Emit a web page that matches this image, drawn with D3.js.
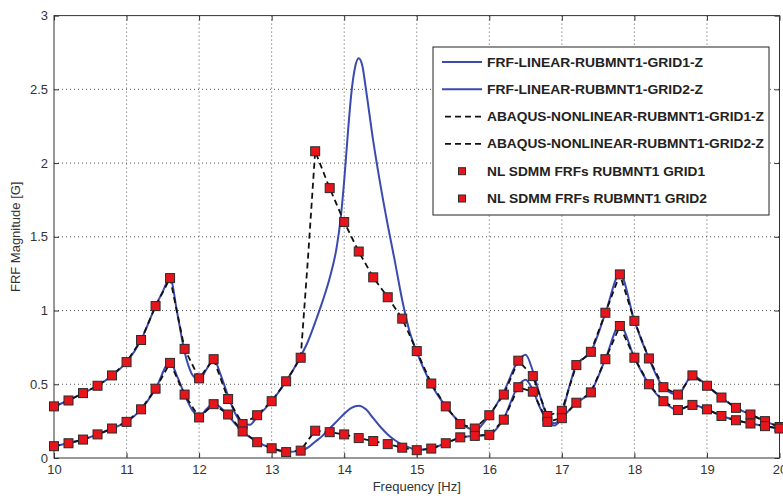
<!DOCTYPE html>
<html><head><meta charset="utf-8">
<script src="https://cdn.jsdelivr.net/npm/d3@7"></script>
<style>body{margin:0;background:#fff}svg{display:block}</style>
</head><body><svg id="c" width="783" height="496"></svg>
<script>
// ---- data ----
const xTicks = [10, 11, 12, 13, 14, 15, 16, 17, 18, 19, 20];
const yTicks = [0, 0.5, 1, 1.5, 2, 2.5, 3];
const legendLabels = [
  "FRF-LINEAR-RUBMNT1-GRID1-Z",
  "FRF-LINEAR-RUBMNT1-GRID2-Z",
  "ABAQUS-NONLINEAR-RUBMNT1-GRID1-Z",
  "ABAQUS-NONLINEAR-RUBMNT1-GRID2-Z",
  "NL SDMM FRFs RUBMNT1 GRID1",
  "NL SDMM FRFs RUBMNT1 GRID2"
];
// NL SDMM marker frequencies and values
const sdmmFreq = [10,10.2,10.4,10.6,10.8,11,11.2,11.4,11.6,11.8,12,12.2,12.4,12.6,12.8,13,13.2,13.4,13.6,13.8,14,14.2,14.4,14.6,14.8,15,15.2,15.4,15.6,15.8,16,16.2,16.4,16.6,16.8,17,17.2,17.4,17.6,17.8,18,18.2,18.4,18.6,18.8,19,19.2,19.4,19.6,19.8,20];
const sdmmGrid1 = [0.35,0.39,0.44,0.49,0.56,0.65,0.80,1.03,1.22,0.74,0.54,0.67,0.40,0.23,0.29,0.385,0.52,0.68,2.08,1.83,1.60,1.40,1.225,1.09,0.945,0.725,0.505,0.35,0.23,0.20,0.29,0.43,0.66,0.555,0.285,0.32,0.63,0.72,0.985,1.245,0.93,0.675,0.48,0.43,0.56,0.49,0.41,0.34,0.295,0.25,0.21];
const sdmmGrid2 = [0.08,0.10,0.125,0.16,0.20,0.245,0.33,0.47,0.645,0.43,0.275,0.365,0.295,0.18,0.107,0.066,0.04,0.05,0.185,0.175,0.16,0.135,0.115,0.094,0.07,0.053,0.064,0.10,0.14,0.15,0.157,0.26,0.48,0.45,0.245,0.27,0.375,0.445,0.67,0.895,0.68,0.50,0.385,0.325,0.36,0.33,0.285,0.256,0.234,0.216,0.20];
// ABAQUS nonlinear (dashed)
const abaqusFreq = [10,10.2,10.4,10.6,10.8,11,11.2,11.4,11.6,11.8,12,12.2,12.4,12.6,12.8,13,13.2,13.4,13.5,13.6,13.8,14,14.2,14.4,14.6,14.8,15,15.2,15.4,15.6,15.8,16,16.2,16.4,16.6,16.8,17,17.2,17.4,17.6,17.8,18,18.2,18.4,18.6,18.8,19,19.2,19.4,19.6,19.8,20];
const abaqusGrid1 = [0.35,0.39,0.44,0.49,0.56,0.65,0.80,1.03,1.22,0.74,0.54,0.67,0.40,0.23,0.29,0.385,0.52,0.68,1.35,2.08,1.83,1.60,1.40,1.225,1.09,0.945,0.725,0.505,0.35,0.23,0.20,0.29,0.43,0.66,0.555,0.285,0.32,0.63,0.72,0.985,1.245,0.93,0.675,0.48,0.43,0.56,0.49,0.41,0.34,0.295,0.25,0.21];
const abaqusGrid2 = [0.08,0.10,0.125,0.16,0.20,0.245,0.33,0.47,0.645,0.43,0.275,0.365,0.295,0.18,0.107,0.066,0.04,0.05,0.12,0.185,0.175,0.16,0.135,0.115,0.094,0.07,0.053,0.064,0.10,0.14,0.15,0.157,0.26,0.48,0.45,0.245,0.27,0.375,0.445,0.67,0.895,0.68,0.50,0.385,0.325,0.36,0.33,0.285,0.256,0.234,0.216,0.20];
// FRF linear (blue)
const linFreq1 = [10,10.2,10.4,10.6,10.8,11,11.2,11.4,11.5,11.6,11.7,11.8,11.9,12,12.1,12.2,12.3,12.4,12.5,12.6,12.7,12.8,12.9,13,13.2,13.4,13.5,13.6,13.7,13.8,13.9,13.95,14,14.05,14.1,14.15,14.2,14.25,14.3,14.4,14.5,14.6,14.7,14.8,14.9,15,15.2,15.4,15.6,15.8,16,16.2,16.4,16.5,16.6,16.7,16.8,16.9,17,17.1,17.2,17.4,17.6,17.8,18,18.2,18.4,18.6,18.8,19,19.2,19.4,19.6,19.8,20];
const linGrid1 = [0.35,0.39,0.44,0.49,0.56,0.65,0.80,1.03,1.13,1.22,0.98,0.72,0.57,0.53,0.60,0.67,0.56,0.42,0.30,0.235,0.225,0.28,0.33,0.385,0.52,0.69,0.79,0.92,1.06,1.22,1.44,1.62,1.88,2.2,2.48,2.65,2.71,2.66,2.50,2.15,1.85,1.58,1.33,1.07,0.86,0.72,0.50,0.35,0.24,0.19,0.29,0.45,0.66,0.70,0.59,0.42,0.28,0.235,0.30,0.48,0.63,0.72,0.98,1.25,0.93,0.675,0.48,0.43,0.56,0.49,0.41,0.34,0.295,0.25,0.21];
const linFreq2 = [10,10.2,10.4,10.6,10.8,11,11.2,11.4,11.6,11.7,11.8,11.9,12,12.1,12.2,12.3,12.4,12.5,12.6,12.8,13,13.2,13.4,13.5,13.6,13.7,13.8,13.9,14,14.1,14.2,14.3,14.4,14.5,14.6,14.7,14.8,14.9,15,15.2,15.4,15.6,15.8,16,16.2,16.4,16.5,16.6,16.7,16.8,16.9,17,17.2,17.4,17.6,17.8,18,18.2,18.4,18.6,18.8,19,19.2,19.4,19.6,19.8,20];
const linGrid2 = [0.08,0.10,0.125,0.16,0.20,0.245,0.33,0.47,0.65,0.55,0.43,0.33,0.28,0.33,0.37,0.34,0.29,0.23,0.18,0.11,0.066,0.04,0.05,0.07,0.11,0.15,0.20,0.25,0.30,0.34,0.355,0.33,0.27,0.21,0.16,0.12,0.09,0.07,0.055,0.065,0.10,0.14,0.15,0.16,0.27,0.49,0.53,0.46,0.34,0.25,0.22,0.27,0.375,0.45,0.67,0.90,0.68,0.50,0.385,0.325,0.36,0.33,0.285,0.256,0.234,0.216,0.20];

// ---- drawing ----
const svg = d3.select("#c");
const L = 54, R = 779.5, T = 15.6, B = 458;
const x = d3.scaleLinear().domain([10, 20]).range([L, R]);
const y = d3.scaleLinear().domain([0, 3]).range([B, T]);
const blue = "#3a4ab0";
const font = "'Liberation Sans', Arial, sans-serif";

// grid
const g = svg.append("g");
g.selectAll("line.vx").data(xTicks.slice(1, -1)).join("line")
  .attr("x1", d => x(d)).attr("x2", d => x(d)).attr("y1", T).attr("y2", B)
  .attr("stroke", "#555").attr("stroke-width", 1).attr("stroke-dasharray", "1,3");
g.selectAll("line.hy").data(yTicks.slice(1, -1)).join("line")
  .attr("y1", d => y(d)).attr("y2", d => y(d)).attr("x1", L).attr("x2", R)
  .attr("stroke", "#555").attr("stroke-width", 1).attr("stroke-dasharray", "1,3");

// axes
function styleAxis(sel) {
  sel.select(".domain").remove();
  sel.selectAll(".tick line").attr("stroke", "#333");
  sel.selectAll(".tick text").attr("fill", "#333").style("font-family", font).style("font-size", "13px");
}
svg.append("g").attr("transform", `translate(0,${B})`)
  .call(d3.axisBottom(x).tickValues(xTicks).tickFormat(d3.format("d")).tickSize(-5).tickPadding(7)).call(styleAxis);
svg.append("g").attr("transform", `translate(0,${T})`)
  .call(d3.axisTop(x).tickValues(xTicks).tickFormat("").tickSize(-5)).call(styleAxis);
svg.append("g").attr("transform", `translate(${L},0)`)
  .call(d3.axisLeft(y).tickValues(yTicks).tickFormat(d => d).tickSize(-5).tickPadding(6)).call(styleAxis);
svg.append("g").attr("transform", `translate(${R},0)`)
  .call(d3.axisRight(y).tickValues(yTicks).tickFormat("").tickSize(-5)).call(styleAxis);

svg.append("rect").attr("x", L).attr("y", T).attr("width", R - L).attr("height", B - T)
  .attr("fill", "none").attr("stroke", "#333").attr("stroke-width", 1);

// series
const line = d3.line().x(d => x(d[0])).y(d => y(d[1]));
const smooth = d3.line().x(d => x(d[0])).y(d => y(d[1])).curve(d3.curveMonotoneX);
const zip = (a, b) => a.map((v, i) => [v, b[i]]);
const plot = svg.append("g");
[[linFreq1, linGrid1], [linFreq2, linGrid2]].forEach(([f, v]) => {
  plot.append("path").datum(zip(f, v)).attr("d", smooth)
    .attr("fill", "none").attr("stroke", blue).attr("stroke-width", 2);
});
[abaqusGrid1, abaqusGrid2].forEach(v => {
  plot.append("path").datum(zip(abaqusFreq, v)).attr("d", line)
    .attr("fill", "none").attr("stroke", "#111").attr("stroke-width", 1.8).attr("stroke-dasharray", "6,4");
});
const ms = 9;
[sdmmGrid1, sdmmGrid2].forEach(v => {
  plot.append("g").selectAll("rect").data(zip(sdmmFreq, v)).join("rect")
    .attr("x", d => x(d[0]) - ms / 2).attr("y", d => y(d[1]) - ms / 2)
    .attr("width", ms).attr("height", ms)
    .attr("fill", "#e8141c").attr("stroke", "#2a2a2a").attr("stroke-width", 1);
});

// axis titles
svg.append("text").attr("x", (L + R) / 2).attr("y", 491).attr("text-anchor", "middle")
  .style("font-family", font).style("font-size", "13px").attr("fill", "#333").text("Frequency [Hz]");
svg.append("text").attr("transform", `translate(20,${(T + B) / 2}) rotate(-90)`).attr("text-anchor", "middle")
  .style("font-family", font).style("font-size", "13px").attr("fill", "#333").text("FRF Magnitude [G]");

// legend
const legendWidths = [216, 216, 277, 277, 218, 220];
const lg = svg.append("g");
lg.append("rect").attr("x", 433).attr("y", 47).attr("width", 336).attr("height", 168)
  .attr("fill", "#fff").attr("stroke", "#222").attr("stroke-width", 1);
const rowY = i => 62 + i * 27.3;
legendLabels.forEach((lab, i) => {
  const yy = rowY(i);
  if (i < 2) {
    lg.append("line").attr("x1", 442).attr("x2", 482).attr("y1", yy).attr("y2", yy)
      .attr("stroke", blue).attr("stroke-width", 2);
  } else if (i < 4) {
    lg.append("line").attr("x1", 445).attr("x2", 482).attr("y1", yy).attr("y2", yy)
      .attr("stroke", "#111").attr("stroke-width", 1.8).attr("stroke-dasharray", "6,4");
  } else {
    lg.append("rect").attr("x", 462 - 3.5).attr("y", yy - 3.5).attr("width", 7).attr("height", 7)
      .attr("fill", "#e8141c").attr("stroke", "#2a2a2a").attr("stroke-width", 1);
  }
  lg.append("text").attr("x", 487).attr("y", yy + 4.5)
    .attr("textLength", legendWidths[i]).attr("lengthAdjust", "spacingAndGlyphs")
    .style("font-family", font).style("font-size", "12px").style("font-weight", "bold")
    .attr("fill", "#222").text(lab);
});
</script></body></html>
